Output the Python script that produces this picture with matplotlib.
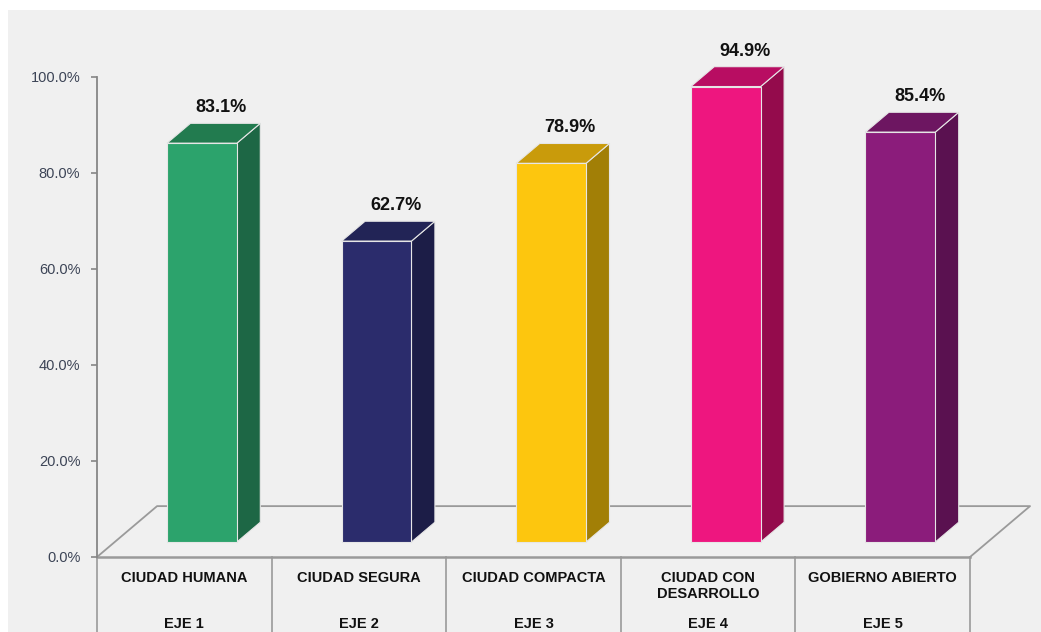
import matplotlib
matplotlib.use("Agg")
from matplotlib import pyplot as plt
from matplotlib.patches import Polygon, Rectangle
from matplotlib import font_manager

categorias = ["CIUDAD HUMANA", "CIUDAD SEGURA", "CIUDAD COMPACTA",
              "CIUDAD CON\nDESARROLLO", "GOBIERNO ABIERTO"]
ejes = ["EJE 1", "EJE 2", "EJE 3", "EJE 4", "EJE 5"]
valores = [83.1, 62.7, 78.9, 94.9, 85.4]
etiquetas = ["83.1%", "62.7%", "78.9%", "94.9%", "85.4%"]
y_ticks = [0, 20, 40, 60, 80, 100]

# front, top, side colours of each bar
c_frente = ["#2ca36c", "#2b2c6c", "#fdc60e", "#ee167f", "#8b1c7b"]
c_arriba = ["#227b4f", "#222456", "#c99b0b", "#b80d62", "#6d1661"]
c_lado = ["#1d6745", "#1c1d47", "#a27f06", "#940b4c", "#5a1150"]

plt.rcParams['font.family'] = ['Liberation Sans', 'DejaVu Sans']

W, H = 1041, 632
fig = plt.figure(figsize=(W / 100, H / 100), dpi=100, facecolor="white")
fig.patches.append(Rectangle((8 / W, 0), 1 - 8 / W, (H - 10) / H,
                             transform=fig.transFigure, facecolor="#f0f0f0",
                             edgecolor="none", zorder=-10))

ax = fig.add_axes([97 / W, (H - 557) / H, (970 - 97) / W, (557 - 77) / H])
ax.set_facecolor("none")
ax.set_xlim(-0.5, 4.5)
ax.set_ylim(0, 100)

# 3D geometry in data units
Dx, Dy = 0.344, 10.6       # floor depth
f0 = 0.294                 # bar front position (fraction of depth)
bd = 0.39                  # bar depth (fraction of depth)
ancho = 0.40
gris = "#9a9a9a"

# floor outline
ax.plot([-0.5, -0.5 + Dx, 4.5 + Dx, 4.5], [0, Dy, Dy, 0], color=gris, lw=1.3,
        clip_on=False, zorder=1)
ax.plot([-0.5, 4.5], [0, 0], color=gris, lw=1.8, clip_on=False, zorder=1)
# table lines under the axis
for b in range(6):
    ax.plot([b - 0.5, b - 0.5], [0, -16], color=gris, lw=1.2, clip_on=False, zorder=1)

for i, v in enumerate(valores):
    x0 = i - ancho / 2 + f0 * Dx
    y0 = f0 * Dy
    dx, dy = bd * Dx, bd * Dy
    x1 = x0 + ancho
    y1 = y0 + v
    ec = "#e6e6e6"
    side = Polygon([(x1, y0), (x1 + dx, y0 + dy), (x1 + dx, y1 + dy), (x1, y1)],
                   closed=True, facecolor=c_lado[i], edgecolor=ec, lw=0.8,
                   clip_on=False, zorder=3)
    top = Polygon([(x0, y1), (x0 + dx, y1 + dy), (x1 + dx, y1 + dy), (x1, y1)],
                  closed=True, facecolor=c_arriba[i], edgecolor=ec, lw=0.8,
                  clip_on=False, zorder=3)
    front = Rectangle((x0, y0), ancho, v, facecolor=c_frente[i], edgecolor=ec,
                      lw=0.8, clip_on=False, zorder=4)
    ax.add_patch(side)
    ax.add_patch(top)
    ax.add_patch(front)
    ax.text(i + f0 * Dx + 0.11, y1 + dy + 2.3, etiquetas[i], ha="center",
            va="baseline", fontsize=13, fontweight="bold", color="#111111",
            zorder=5)

for i in range(5):
    ax.text(i, -3.0, categorias[i], ha="center", va="top", fontsize=10.5,
            fontweight="bold", color="#111111", linespacing=1.15)
    ax.text(i, -13.9, ejes[i], ha="center", va="center", fontsize=10.5,
            fontweight="bold", color="#111111")

for s in ["top", "right", "bottom"]:
    ax.spines[s].set_visible(False)
ax.spines["left"].set_color("#868686")
ax.spines["left"].set_linewidth(1.3)
ax.set_xticks([])
ax.set_yticks(y_ticks)
ax.set_yticklabels(["%.1f%%" % t for t in y_ticks])
ax.tick_params(axis="y", length=4, width=1.2, color="#868686", pad=8,
               labelsize=10.5, labelcolor="#3c4456")

fig.savefig("out.png", dpi=100, facecolor=fig.get_facecolor())
